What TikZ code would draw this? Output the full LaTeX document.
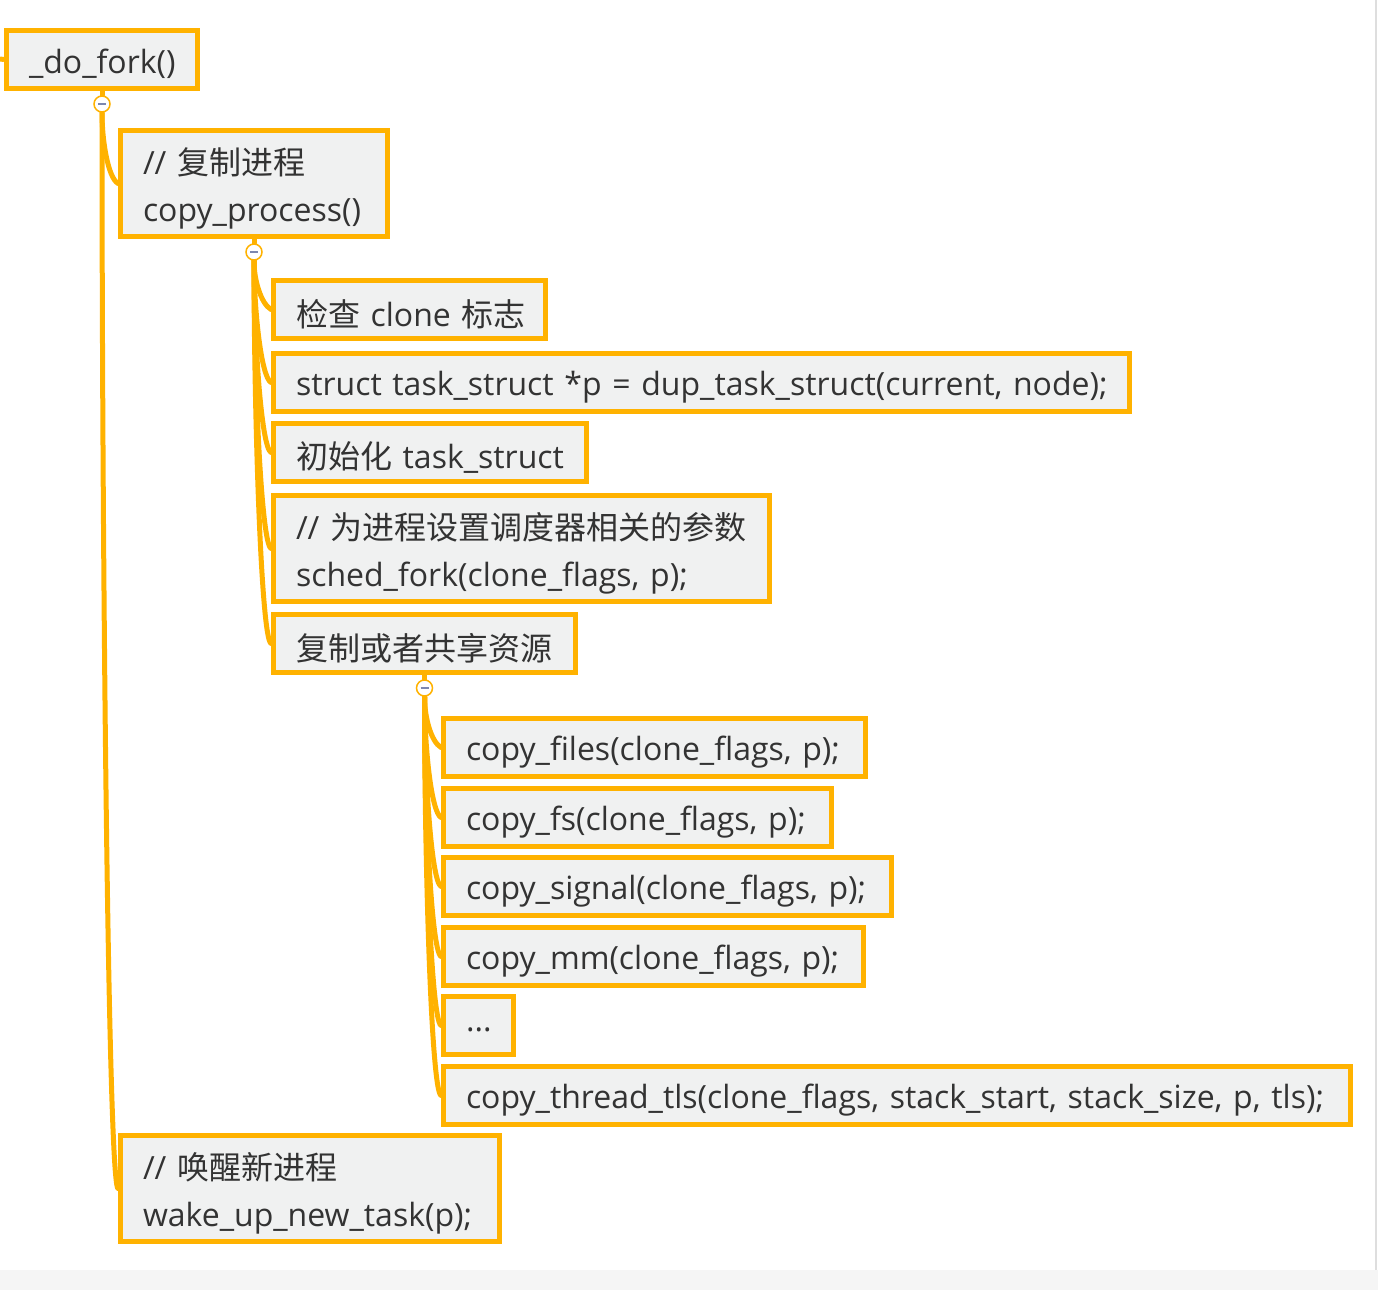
\documentclass[tikz,border=0pt]{standalone}
\usepackage{fontspec}
\setmainfont{Open Sans}
\newfontfamily\cjk{Noto Sans CJK SC}
\usetikzlibrary{calc}
\definecolor{arancio}{RGB}{255,178,0}
\definecolor{grigio}{RGB}{240,241,241}
\definecolor{inchiostro}{RGB}{51,51,51}
\definecolor{bordo}{RGB}{222,222,222}
\definecolor{fondo}{RGB}{245,245,245}
\definecolor{segno}{RGB}{125,135,175}
\newcommand{\zh}[1]{{\cjk #1}}
% one line of a topic, set a little lower than the centre
\newcommand{\riga}[1]{\raisebox{-4.5pt}[\height][\depth]{#1}}
\tikzstyle{mindmap}=[
    x=1pt, y=-1pt,
    topic/.style={draw=arancio, fill=grigio, line width=5pt, anchor=north west,
        align=left, inner xsep=22.5pt, inner ysep=0pt, minimum height=58pt,
        text=inchiostro, font={\fontsize{32}{47}\selectfont}},
    topic two/.style={topic, minimum height=106pt},
    fold/.style={circle, draw=arancio, fill=white, line width=1.5pt,
        minimum size=16pt, inner sep=0pt,
        path picture={\draw[segno, line width=1.2pt]
            ([xshift=-4pt]path picture bounding box.center) --
            ([xshift=4pt]path picture bounding box.center);}},
    branch/.style={arancio, line width=5pt, line cap=round},
]
\pgfdeclarelayer{background}
\pgfsetlayers{background,main}
% from a fold button to the west side of a child topic
\newcommand{\ramo}[2]{
    \begin{pgfonlayer}{background}
    \draw[branch] (#1.south)
        .. controls ($(#1.south)!0.4!(#1.south |- #2.west)$)
        and ([xshift=-10pt,yshift=6pt]#2.west) .. (#2.west);
    \end{pgfonlayer}
}

\begin{document}
\begin{tikzpicture}[mindmap]

    \useasboundingbox (0,0) rectangle (1378,1290);
    \fill[fondo] (0,1270) rectangle (1378,1290);
    \draw[bordo, line width=1.5pt] (1376,0) -- (1376,1270);

    % root
    \node[topic, text width=146pt] (dofork) at (4,28) {\riga{\_do\_fork()}};
    \coordinate (ingresso) at (0,59);
    \draw[branch, line cap=butt] (ingresso) -- (dofork.west);

    \node[topic two, text width=222pt] (copyproc) at (118,128)
        {\riga{// \zh{复制进程}}\\\riga{copy\_process()}};
    \node[topic two, text width=334pt] (wakeup) at (118,1133)
        {\riga{// \zh{唤醒新进程}}\\\riga{wake\_up\_new\_task(p);}};

    % copy_process()
    \node[topic, text width=227pt] (chkclone) at (271,278) {\riga{\zh{检查} clone \zh{标志}}};
    \node[topic, text width=811pt] (duptask) at (271,351)
        {\riga{struct task\_struct *p = dup\_task\_struct(current, node);}};
    \node[topic, text width=268pt] (inittask) at (271,421) {\riga{\zh{初始化} task\_struct}};
    \node[topic two, text width=451pt] (schedfork) at (271,493)
        {\riga{// \zh{为进程设置调度器相关的参数}}\\\riga{sched\_fork(clone\_flags, p);}};
    \node[topic, text width=257pt] (copyres) at (271,612) {\riga{\zh{复制或者共享资源}}};

    % resources
    \foreach \n/\y/\w/\t in {
        cfiles/716/377/{copy\_files(clone\_flags, p);},
        cfs/786/343/{copy\_fs(clone\_flags, p);},
        csignal/855/403/{copy\_signal(clone\_flags, p);},
        cmm/925/375/{copy\_mm(clone\_flags, p);},
        cdots/994/25/{...},
        cthread/1064/862/{copy\_thread\_tls(clone\_flags, stack\_start, stack\_size, p, tls);}}
        \node[topic, text width=\w pt] (\n) at (441,\y) {\riga{\t}};

    % fold buttons
    \node[fold] (fdofork) at ([yshift=-13pt]dofork.south) {};
    \node[fold] (fcopyproc) at ([yshift=-13pt]copyproc.south) {};
    \node[fold] (fcopyres) at ([yshift=-13pt]copyres.south) {};
    \begin{pgfonlayer}{background}
    \foreach \p in {dofork,copyproc,copyres}
        \draw[branch] (\p.south) -- (f\p.north);
    \end{pgfonlayer}

    \foreach \c in {copyproc,wakeup}
        {\ramo{fdofork}{\c}}
    \foreach \c in {chkclone,duptask,inittask,schedfork,copyres}
        {\ramo{fcopyproc}{\c}}
    \foreach \c in {cfiles,cfs,csignal,cmm,cdots,cthread}
        {\ramo{fcopyres}{\c}}

\end{tikzpicture}
\end{document}
